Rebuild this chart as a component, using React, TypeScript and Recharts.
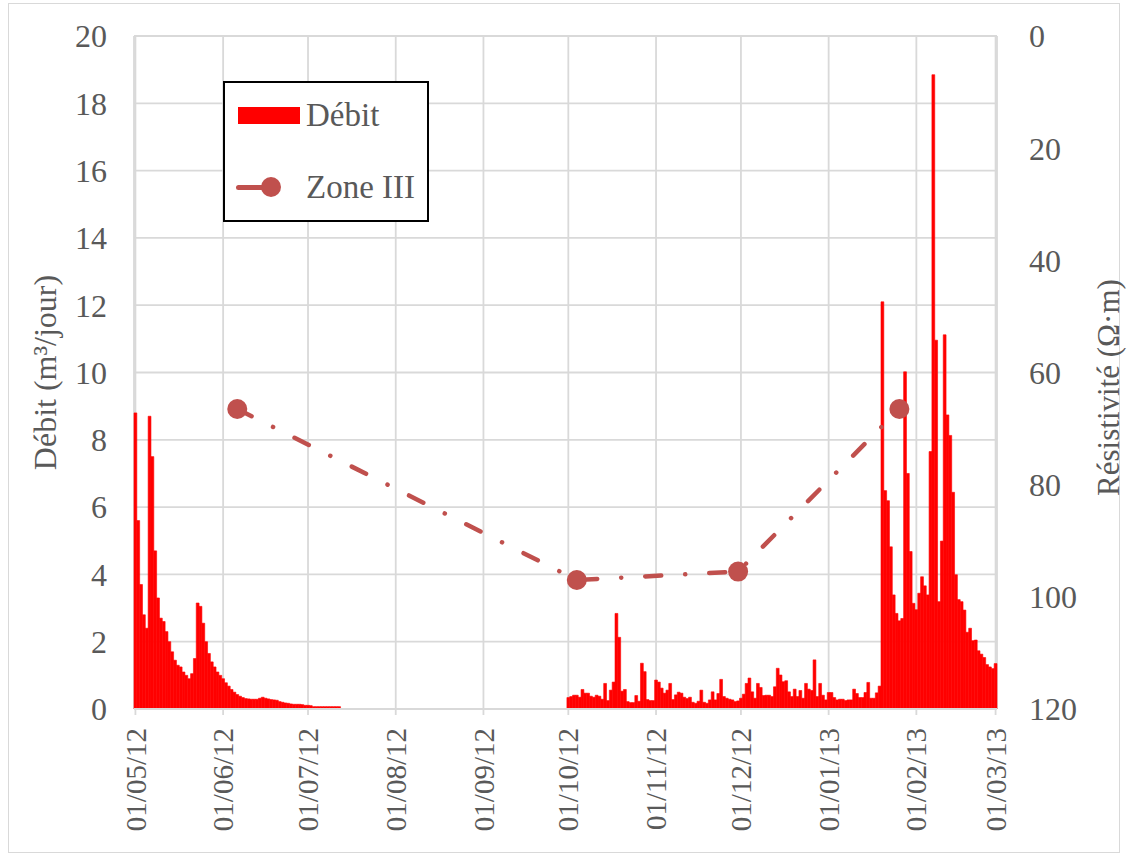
import { Bar, CartesianGrid, ComposedChart, Line, XAxis, YAxis } from "recharts"

// débit journalier (m3/jour), du 01/05/12 au 01/03/13
const debitMai = [
  8.8, 5.6, 3.7, 2.8, 2.4, 8.7, 7.5, 4.7, 3.3, 2.7, 2.6, 2.3, 2.0, 1.7, 1.45, 1.3,
  1.25, 1.1, 1.0, 0.9, 1.05, 1.5, 3.15, 3.05, 2.55, 2.0, 1.65, 1.4, 1.25, 1.1, 1.0,
]
const debitJuin = [
  0.9, 0.78, 0.68, 0.58, 0.5, 0.43, 0.38, 0.34, 0.31, 0.3, 0.29, 0.29, 0.29, 0.32, 0.35,
  0.32, 0.3, 0.28, 0.27, 0.26, 0.22, 0.2, 0.18, 0.17, 0.15, 0.14, 0.14, 0.14, 0.13, 0.11,
]
const debitJuillet = [
  0.11, 0.1, 0.07, 0.07, 0.07, 0.07, 0.07, 0.07, 0.07, 0.07, 0.07, 0.07, 0, 0, 0, 0,
  0, 0, 0, 0, 0, 0, 0, 0, 0, 0, 0, 0, 0, 0, 0,
]
const debitAout = [
  0, 0, 0, 0, 0, 0, 0, 0, 0, 0, 0, 0, 0, 0, 0, 0,
  0, 0, 0, 0, 0, 0, 0, 0, 0, 0, 0, 0, 0, 0, 0,
]
const debitSept = [
  0, 0, 0, 0, 0, 0, 0, 0, 0, 0, 0, 0, 0, 0, 0,
  0, 0, 0, 0, 0, 0, 0, 0, 0, 0, 0, 0, 0, 0, 0,
]
const debitOct = [
  0.34, 0.37, 0.41, 0.41, 0.35, 0.58, 0.47, 0.47, 0.38, 0.35, 0.41, 0.38, 0.29, 0.76, 0.25, 0.56,
  0.8, 2.84, 2.13, 0.53, 0.58, 0.22, 0.19, 0.19, 0.4, 0.23, 1.36, 1.11, 0.28, 0.25, 0.25,
]
const debitNov = [
  0.86, 0.8, 0.62, 0.47, 0.56, 0.76, 0.28, 0.42, 0.5, 0.47, 0.35, 0.31, 0.35, 0.2, 0.17,
  0.23, 0.56, 0.2, 0.17, 0.27, 0.51, 0.27, 0.46, 0.88, 0.37, 0.32, 0.29, 0.27, 0.22, 0.24,
]
const debitDec = [
  0.32, 0.44, 0.76, 0.92, 0.51, 0.32, 0.76, 0.64, 0.4, 0.41, 0.41, 0.37, 0.66, 1.21, 1.01, 0.81,
  0.84, 0.51, 0.37, 0.59, 0.37, 0.55, 0.32, 0.76, 0.59, 0.55, 1.46, 0.37, 0.76, 0.41, 0.27,
]
const debitJanv = [
  0.49, 0.49, 0.34, 0.27, 0.29, 0.29, 0.25, 0.27, 0.27, 0.59, 0.46, 0.34, 0.34, 0.49, 0.79, 0.32,
  0.32, 0.48, 0.68, 12.1, 6.49, 6.19, 4.82, 3.39, 2.84, 2.62, 2.69, 10.02, 7.0, 4.68, 3.14,
]
const debitFev = [
  2.95, 3.44, 3.93, 3.66, 3.39, 7.65, 18.85, 10.96, 3.19, 4.99, 11.12, 8.74, 8.13, 6.44,
  3.99, 3.25, 3.19, 2.94, 2.28, 2.4, 2.03, 2.05, 1.73, 1.63, 1.53, 1.32, 1.25, 1.2,
]
const debitMars = [1.35]

// résistivité zone III (ohm.m)
const zoneDates = ["06/06/12", "04/10/12", "30/11/12", "26/01/13"]
const zoneValues = [66.5, 97, 95.5, 66.5]

const xTicks = [
  "01/05/12", "01/06/12", "01/07/12", "01/08/12", "01/09/12", "01/10/12",
  "01/11/12", "01/12/12", "01/01/13", "01/02/13", "01/03/13",
]
const leftTicks = [0, 2, 4, 6, 8, 10, 12, 14, 16, 18, 20]
const rightTicks = [0, 20, 40, 60, 80, 100, 120]

const debit = [
  ...debitMai, ...debitJuin, ...debitJuillet, ...debitAout, ...debitSept,
  ...debitOct, ...debitNov, ...debitDec, ...debitJanv, ...debitFev, ...debitMars,
]

const pad = (n: number) => String(n).padStart(2, "0")
const dayLabel = (i: number) => {
  const d = new Date(Date.UTC(2012, 4, 1 + i))
  return `${pad(d.getUTCDate())}/${pad(d.getUTCMonth() + 1)}/${pad(d.getUTCFullYear() % 100)}`
}

const data = debit.map((v, i) => {
  const date = dayLabel(i)
  const k = zoneDates.indexOf(date)
  return { date, debit: v, zone: k >= 0 ? zoneValues[k] : null }
})

const FONT = '"Liberation Serif", "Times New Roman", serif'
const GREY = "#595959"
const GRID = "#d9d9d9"
const LINE = "#c0504d"

const DateTick = ({ x, y, payload }: any) => (
  <text
    x={x}
    y={y}
    transform={`rotate(-90, ${x}, ${y})`}
    textAnchor="end"
    dy="0.35em"
    fill={GREY}
    fontSize={29}
    fontFamily={FONT}
  >
    {payload.value}
  </text>
)

const LeftTitle = ({ viewBox }: any) => {
  const x = viewBox.x + 45
  const y = viewBox.y + viewBox.height / 2
  return (
    <text x={x} y={y} transform={`rotate(-90, ${x}, ${y})`} textAnchor="middle" dy="0.35em"
      fill={GREY} fontSize={32} fontFamily={FONT}>
      Débit (m³/jour)
    </text>
  )
}

const RightTitle = ({ viewBox }: any) => {
  const x = viewBox.x + 111
  const y = viewBox.y + viewBox.height / 2 + 15
  return (
    <text x={x} y={y} transform={`rotate(-90, ${x}, ${y})`} textAnchor="middle" dy="0.35em"
      fill={GREY} fontSize={31} fontFamily={FONT}>
      Résistivité (Ω·m)
    </text>
  )
}

const tickStyle = { fill: GREY, fontSize: 32, fontFamily: FONT }

export default function App() {
  return (
    <div style={{ position: "absolute", left: 0, top: 0, width: 1129, height: 859, background: "#fff" }}>
      <div style={{ position: "absolute", left: 8, top: 3, width: 1112, height: 850, border: `1.5px solid ${GRID}`, boxSizing: "border-box" }} />
      <ComposedChart
        width={1129}
        height={859}
        data={data}
        margin={{ top: 36, right: 0, bottom: 0, left: 0 }}
        barCategoryGap={0}
        barGap={0}
      >
        <CartesianGrid stroke={GRID} strokeWidth={1.8} yAxisId="left" />
        <XAxis
          dataKey="date"
          ticks={xTicks}
          interval={0}
          height={150}
          stroke={GRID}
          strokeWidth={1.8}
          tickSize={6}
          tickMargin={13}
          tick={<DateTick />}
        />
        <YAxis
          yAxisId="left"
          domain={[0, 20]}
          ticks={leftTicks}
          width={134}
          axisLine={false}
          tickLine={false}
          tickSize={0}
          tickMargin={27}
          tick={tickStyle}
          label={<LeftTitle />}
        />
        <YAxis
          yAxisId="right"
          orientation="right"
          reversed
          domain={[0, 120]}
          ticks={rightTicks}
          width={132}
          axisLine={false}
          tickLine={false}
          tickSize={0}
          tickMargin={32}
          tick={tickStyle}
          label={<RightTitle />}
        />
        <Bar
          yAxisId="left"
          dataKey="debit"
          fill="#ff0000"
          stroke="#ff0000"
          strokeWidth={0.6}
          barSize={2.82}
          isAnimationActive={false}
        />
        <Line
          yAxisId="right"
          dataKey="zone"
          connectNulls
          stroke={LINE}
          strokeWidth={4.5}
          strokeDasharray="16 24 0.1 24"
          strokeLinecap="round"
          dot={{ r: 10, fill: LINE, stroke: "none", strokeDasharray: "none" }}
          activeDot={false}
          isAnimationActive={false}
        />
      </ComposedChart>
      <div
        style={{
          position: "absolute", left: 223, top: 81, width: 206, height: 141,
          border: "2px solid #000", boxSizing: "border-box", background: "#fff",
          fontFamily: FONT, fontSize: 33, color: GREY,
        }}
      >
        <div style={{ position: "absolute", left: 13, top: 24, width: 62, height: 17, background: "#ff0000" }} />
        <div style={{ position: "absolute", left: 81, top: 12, lineHeight: "40px" }}>Débit</div>
        <div style={{ position: "absolute", left: 11, top: 102, width: 38, height: 5, background: LINE, borderRadius: 3 }} />
        <div style={{ position: "absolute", left: 36, top: 94, width: 20, height: 20, background: LINE, borderRadius: "50%" }} />
        <div style={{ position: "absolute", left: 81, top: 84, lineHeight: "40px" }}>Zone III</div>
      </div>
    </div>
  )
}
